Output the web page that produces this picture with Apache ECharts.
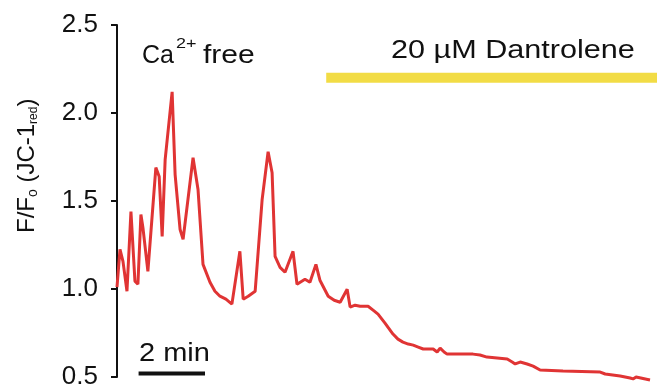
<!DOCTYPE html>
<html><head><meta charset="utf-8">
<script src="https://cdn.jsdelivr.net/npm/echarts@6/dist/echarts.min.js"></script>
<style>html,body{margin:0;padding:0;background:#fff}#c{width:657px;height:390px}</style>
</head><body><div id="c"></div>
<script>
// time (min) and F/Fo (JC-1 red)
const timeMin = [0,0.09,0.18,0.30,0.42,0.54,0.63,0.72,0.78,0.93,1.17,1.27,1.36,1.45,1.66,1.75,1.90,1.99,2.29,2.44,2.59,2.80,2.95,3.10,3.28,3.46,3.70,3.80,3.95,4.16,4.37,4.55,4.67,4.76,4.91,5.06,5.30,5.42,5.66,5.81,5.99,6.11,6.36,6.54,6.72,6.93,7.02,7.17,7.32,7.56,7.71,7.86,8.07,8.31,8.46,8.61,8.77,8.92,9.07,9.22,9.52,9.64,9.73,9.85,9.94,10.72,10.93,11.14,11.75,11.90,11.99,12.14,12.35,12.53,12.74,13.43,13.49,14.55,14.70,15.15,15.45,15.54,15.63,15.69,16.05];
const ratio = [1.010,1.225,1.157,0.987,1.440,1.044,1.027,1.423,1.350,1.100,1.690,1.639,1.299,1.735,2.120,1.650,1.338,1.282,1.746,1.565,1.140,1.038,0.987,0.959,0.942,0.914,1.214,0.942,0.959,0.987,1.508,1.780,1.661,1.185,1.123,1.095,1.214,1.027,1.055,1.038,1.140,1.050,0.959,0.936,0.925,0.999,0.897,0.908,0.902,0.902,0.880,0.857,0.806,0.744,0.715,0.698,0.687,0.681,0.670,0.659,0.659,0.642,0.664,0.642,0.630,0.630,0.625,0.613,0.602,0.585,0.574,0.585,0.574,0.562,0.540,0.534,0.528,0.528,0.517,0.506,0.494,0.489,0.500,0.489,0.483];
const yTickValues = [0.5, 1.0, 1.5, 2.0, 2.5];
const dantrolenePeriod = [6.3, 16.3];
const dantroleneLevel = 2.2;
const scaleBarStart = 0.65;
const scaleBarLength = 2;   // minutes
const scaleBarLevel = 0.52;

const dom = document.getElementById('c');
const chart = echarts.init(dom, null, {renderer: 'canvas'});
const FONT = '"Liberation Sans", Arial, sans-serif';
const INK = '#111111';

const mctx = document.createElement('canvas').getContext('2d');
function tw(t, size) { mctx.font = size + 'px ' + FONT; return mctx.measureText(t).width; }

function txt(text, x, y, size, extra) {
  return Object.assign({
    type: 'text', x: x, y: y, silent: true,
    style: {text: text, font: size + 'px ' + FONT, fill: INK,
      textAlign: 'left', textVerticalAlign: 'middle', align: 'left', verticalAlign: 'middle'}
  }, extra || {});
}

// rotated y-axis title built from pieces
const titlePieces = [
  ['F/F', 24, 0], ['o', 14, 6], [' (JC-1', 24, 0], ['red', 12, 7], [')', 24, 0]
];
let cursor = 0;
const titleChildren = titlePieces.map(p => {
  const el = txt(p[0], cursor, p[2], p[1]);
  cursor += tw(p[0], p[1]);
  return el;
});

const option = {
  animation: false,
  backgroundColor: '#fff',
  grid: {left: 117, right: 2, top: 25, bottom: 12},
  xAxis: {type: 'value', min: 0, max: 16.2, show: false},
  yAxis: {
    type: 'value', min: yTickValues[0], max: yTickValues[yTickValues.length - 1], interval: 0.5,
    axisLine: {show: true, lineStyle: {color: INK, width: 2}},
    axisTick: {show: true, length: 6, lineStyle: {color: INK, width: 2}},
    splitLine: {show: false},
    axisLabel: {fontSize: 26, fontFamily: FONT, color: INK, margin: 19,
      formatter: v => v.toFixed(1)}
  },
  series: [
    {type: 'line', data: timeMin.map((t, i) => [t, ratio[i]]), showSymbol: false, clip: false,
      lineStyle: {color: '#e03434', width: 3}, z: 3},
    {type: 'line', data: dantrolenePeriod.map(t => [t, dantroleneLevel]), showSymbol: false, clip: false,
      lineStyle: {color: '#f2dc45', width: 10, cap: 'butt'}},
    {type: 'line', data: [[scaleBarStart, scaleBarLevel], [scaleBarStart + scaleBarLength, scaleBarLevel]],
      showSymbol: false, clip: false, lineStyle: {color: INK, width: 4, cap: 'butt'}}
  ],
  graphic: [
    {type: 'group', x: 27, y: 233, rotation: Math.PI / 2, children: titleChildren},
    txt('Ca', 142, 56, 25),
    txt('2+', 176, 44, 15, {scaleX: 1.2}),
    txt('free', 203, 56, 25, {scaleX: 1.2}),
    txt('20 \u00b5M Dantrolene', 391, 51, 25.5, {scaleX: 1.2}),
    txt('2 min', 139, 354, 25, {scaleX: 1.16})
  ]
};
chart.setOption(option);
</script>
</body></html>
